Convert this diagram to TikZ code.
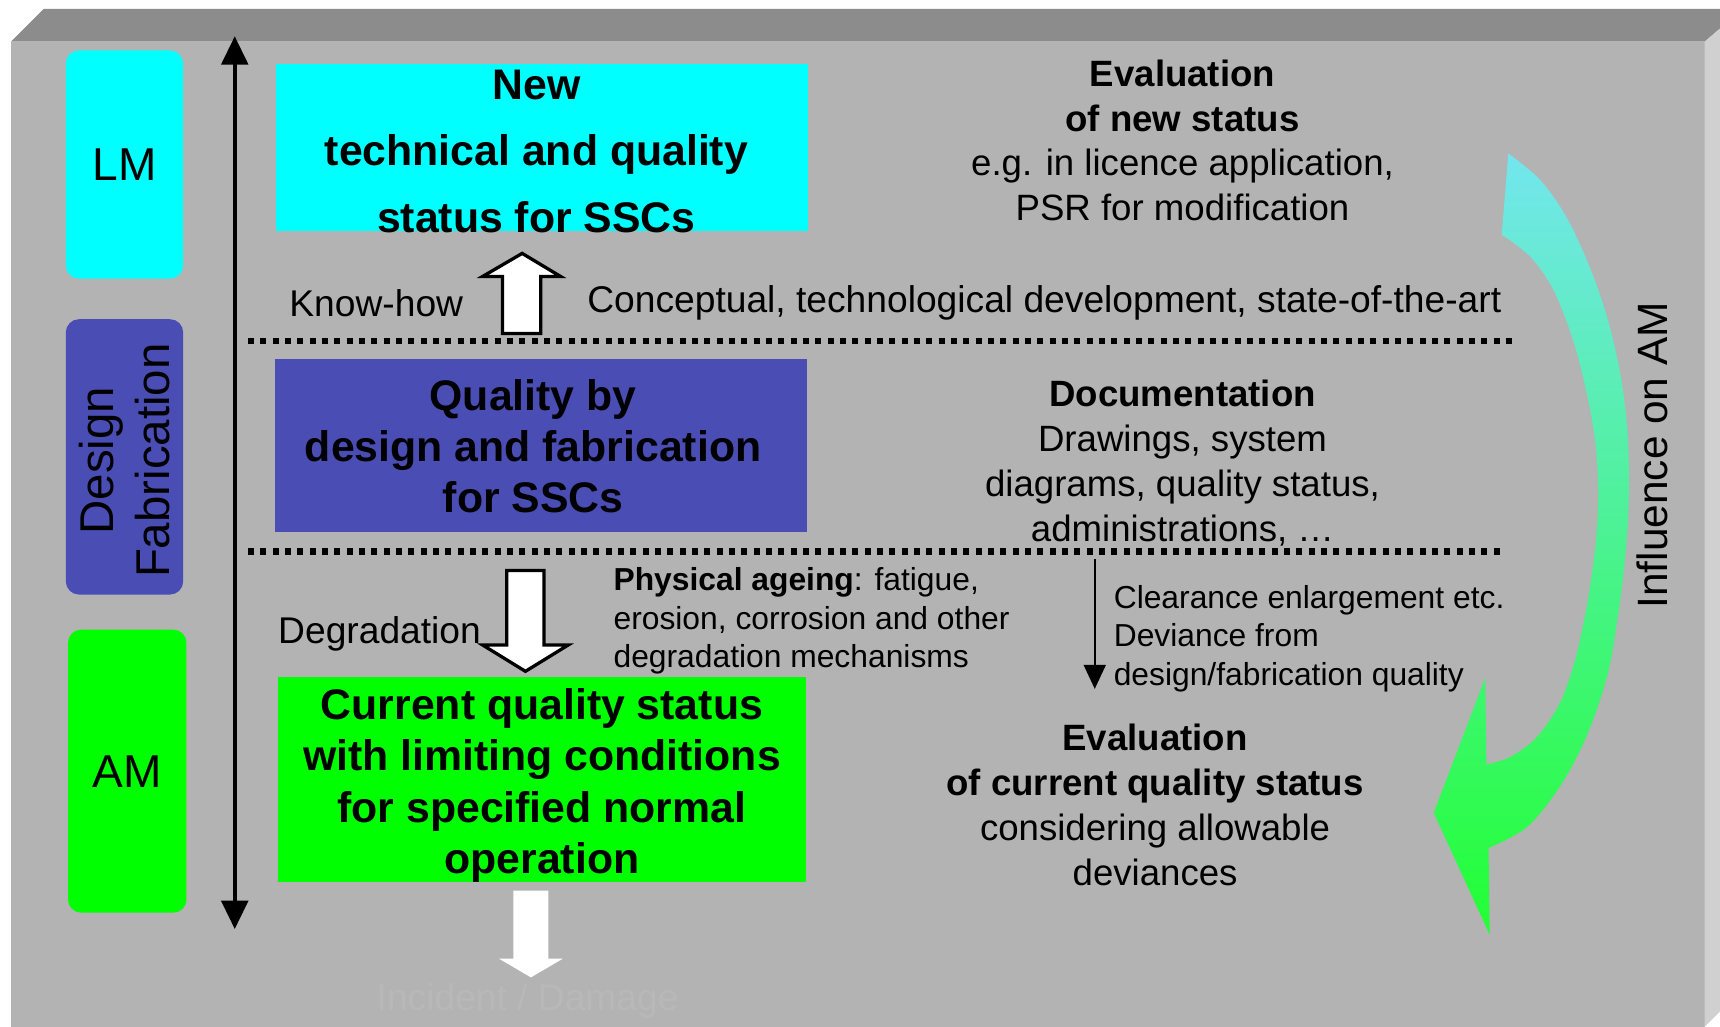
\documentclass[tikz,border=0pt]{standalone}
\usepackage{fontspec}
\setmainfont{Liberation Sans}
\usetikzlibrary{arrows.meta}

\definecolor{facegray}{RGB}{179,179,179}
\definecolor{topgray}{RGB}{140,140,140}
\definecolor{sidegray}{RGB}{208,208,208}
\definecolor{lmcyan}{RGB}{0,255,255}
\definecolor{dfblue}{RGB}{74,77,179}
\definecolor{amgreen}{RGB}{0,255,0}
\definecolor{bendtop}{RGB}{115,230,238}
\definecolor{bendbot}{RGB}{34,255,51}
\definecolor{faintgray}{RGB}{184,184,184}

\newcommand\setfs[2]{\fontsize{#1}{#2}\selectfont}
\newcommand\pxu{0.02cm}

\begin{document}
\begin{tikzpicture}[x=0.02cm,y=-0.02cm,
  phase/.style={rounded corners=0.24cm, inner sep=0pt, align=center,
    font=\setfs{23.9}{28.4}},
  statusbox/.style={inner sep=0pt},
  statustext/.style={inner sep=0pt, align=center},
  evaltext/.style={inner sep=0pt, align=center, font=\setfs{19}{23.3}},
  smalltext/.style={inner sep=0pt, align=left, font=\setfs{16.5}{20}},
  plaintext/.style={inner sep=0pt, font=\setfs{19.3}{23}},
  axisline/.style={line width=2.3pt, {Triangle[width=13.7pt,length=14.8pt]}-{Triangle[width=13.7pt,length=14.8pt]}},
  thinarrow/.style={line width=1.1pt, -{Triangle[width=11.4pt,length=12.5pt]}},
  dotline/.style={line width=3.4pt, dash pattern=on 3.1pt off 3.3pt},
  blockarrow/.style={fill=white, draw=black, line width=1.7pt, line join=miter}
]
\useasboundingbox (0,0) rectangle (1568,936);

% panel: front face, top bevel and right side
\fill[white] (0,0) rectangle (1568,936);
\fill[facegray] (10,38) rectangle (1554,936);
\fill[topgray] (10,38) -- (40,8) -- (1568,8) -- (1568,26) -- (1554,38) -- cycle;
\fill[sidegray] (1554,38) -- (1568,26) -- (1568,922) -- (1554,936) -- cycle;

% phase labels on the left
\node[phase, fill=lmcyan, minimum width=107*\pxu, minimum height=208*\pxu] (lm) at (113.5,150) {LM};
\node[phase, fill=dfblue, minimum width=107*\pxu, minimum height=251*\pxu] (df) at (113.5,416.5) {};
\node[phase, rotate=90, font=\setfs{24.6}{28.6}] (dftext) at (113.5,420) {Design\\Fabrication};
\node[phase, fill=amgreen, minimum width=108*\pxu, minimum height=258*\pxu] (am) at (116,703) {AM};

% time axis
\coordinate (axtop) at (214,33);
\coordinate (axbot) at (214,847);
\draw[axisline] (axtop) -- (axbot);

% status boxes
\node[statusbox, fill=lmcyan, minimum width=485*\pxu, minimum height=153*\pxu] (new) at (494.5,134.5) {};
\node[statustext, font=\setfs{22.2}{34.7}\bfseries] (newtext) at (489,138)
  {New\\technical and quality\\status for SSCs};
\node[statusbox, fill=dfblue, minimum width=485*\pxu, minimum height=158*\pxu] (qual) at (493.5,406) {};
\node[statustext, font=\setfs{22.2}{26.5}\bfseries] (qualtext) at (486,407)
  {Quality by\\design and fabrication\\for SSCs};
\node[statusbox, fill=amgreen, minimum width=482*\pxu, minimum height=187*\pxu] (cur) at (494,710.5) {};
\node[statustext, font=\setfs{22.2}{26.7}\bfseries] (curtext) at (494,716)
  {Current quality status\\with limiting conditions\\for specified normal\\operation};

% dotted phase separators
\coordinate (sepAl) at (226,311);
\coordinate (sepAr) at (1380,311);
\coordinate (sepBl) at (226,503);
\coordinate (sepBr) at (1370,503);
\draw[dotline] (sepAl) -- (sepAr);
\draw[dotline] (sepBl) -- (sepBr);

% know-how arrow (up)
\draw[blockarrow] (458,304) -- (458,252) -- (440,252) -- (476,231) -- (511,252) -- (493,252) -- (493,304) -- cycle;
% degradation arrow (down)
\draw[blockarrow] (462,520) -- (496,520) -- (496,588) -- (518,588) -- (479,612) -- (440,588) -- (462,588) -- cycle;
% outgoing arrow (down, white)
\fill[white] (468,812) -- (500,812) -- (500,874) -- (513,874) -- (484,891) -- (455,874) -- (468,874) -- cycle;

% side texts
\node[plaintext] (knowhow) at (343,276) {Know-how};
\node[plaintext] (concept) at (952,276) {Conceptual, technological development, state-of-the-art};
\node[plaintext] (degr) at (346,578) {Degradation};

\node[evaltext] (evalnew) at (1078,128)
  {\textbf{Evaluation}\\\textbf{of new status}\\e.g. in licence application,\\PSR for modification};
\node[evaltext] (docu) at (1078,422)
  {\textbf{Documentation}\\Drawings, system\\diagrams, quality status,\\administrations, \dots};
\node[evaltext] (evalcur) at (1053,733.5)
  {\textbf{Evaluation}\\\textbf{of current quality status}\\considering allowable\\deviances};

\node[smalltext, anchor=west] (ageing) at (559,566)
  {\textbf{Physical ageing}: fatigue,\\erosion, corrosion and other\\degradation mechanisms};
\node[smalltext, anchor=west] (clear) at (1015,582)
  {Clearance enlargement etc.\\Deviance from\\design/fabrication quality};

% deviance arrow
\coordinate (devtop) at (998,510);
\coordinate (devbot) at (998,628);
\draw[thinarrow] (devtop) -- (devbot);

% curved influence arrow
\shade[top color=bendtop, bottom color=bendbot]
  plot[smooth, tension=0.55] coordinates {(1375,140) (1404,164) (1428,198) (1449,243) (1465,289) (1477,340) (1483,386) (1485,431) (1484,477) (1480,523) (1474,568) (1465,617) (1446,672) (1422,717) (1392,754) (1357,773)}
  -- (1358,852) -- (1307,741) -- (1354,618) -- (1355,697)
  -- plot[smooth, tension=0.55] coordinates {(1355,697) (1377,690) (1401,672) (1422,641) (1435,605) (1443,571) (1449,538) (1455,492) (1457,447) (1454,401) (1446,356) (1434,310) (1416,264) (1395,234) (1369,214)}
  -- cycle;
\node[plaintext, font=\setfs{22}{26}, rotate=90] (infl) at (1506,415) {Influence on AM};

% faint caption under the outgoing arrow
\node[plaintext, text=faintgray] (incident) at (481,912) {Incident / Damage};
\end{tikzpicture}
\end{document}
